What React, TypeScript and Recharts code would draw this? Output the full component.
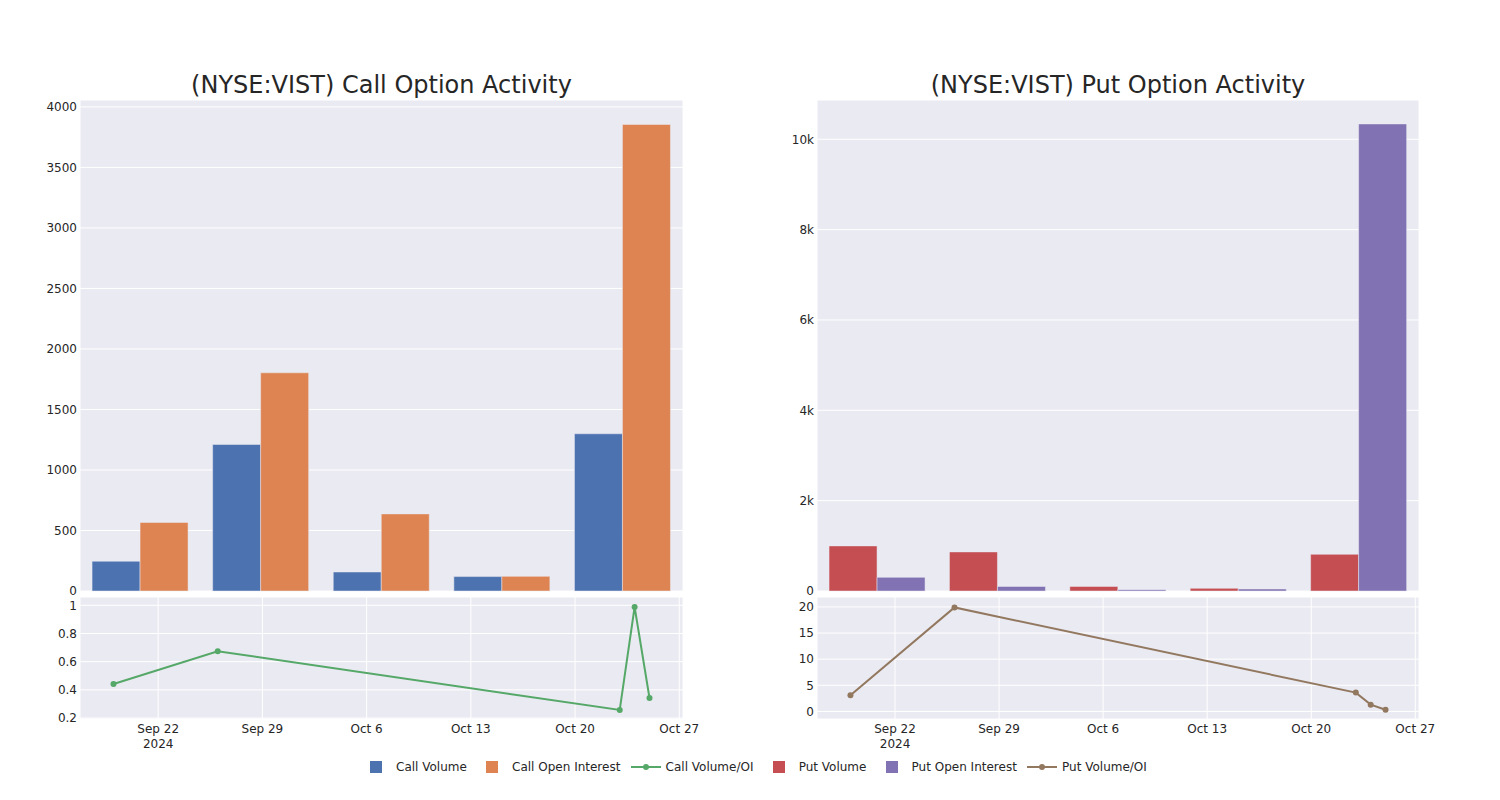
import { Bar, BarChart, CartesianGrid, Line, LineChart, XAxis, YAxis } from "recharts";

// bar categories (expiration / snapshot dates)
const barDates = ["2024-09-19", "2024-09-26", "2024-10-23", "2024-10-24", "2024-10-25"];
const callVolume = [246, 1211, 157, 119, 1299];
const callOpenInterest = [566, 1803, 637, 121, 3855];
const putVolume = [998, 865, 102, 59, 812];
const putOpenInterest = [302, 100, 29, 44, 10340];

// volume / open interest ratio lines
const ratioDates = ["2024-09-19", "2024-09-26", "2024-10-23", "2024-10-24", "2024-10-25"];
const callRatio = [0.441, 0.674, 0.257, 0.988, 0.342];
const putRatio = [3.1, 19.9, 3.6, 1.3, 0.32];

const dateTicks = ["2024-09-22", "2024-09-29", "2024-10-06", "2024-10-13", "2024-10-20", "2024-10-27"];
const dateTickLabels = ["Sep 22", "Sep 29", "Oct 6", "Oct 13", "Oct 20", "Oct 27"];
const callTicks = [0, 500, 1000, 1500, 2000, 2500, 3000, 3500, 4000];
const putTicks = [0, 2000, 4000, 6000, 8000, 10000];
const callRatioTicks = [0.2, 0.4, 0.6, 0.8, 1];
const putRatioTicks = [0, 5, 10, 15, 20];

const legendItems = [
  { name: "Call Volume", color: "#4C72B0", kind: "bar" },
  { name: "Call Open Interest", color: "#DD8452", kind: "bar" },
  { name: "Call Volume/OI", color: "#55A868", kind: "line" },
  { name: "Put Volume", color: "#C44E52", kind: "bar" },
  { name: "Put Open Interest", color: "#8172B3", kind: "bar" },
  { name: "Put Volume/OI", color: "#937860", kind: "line" },
];

const BG = "#EAEAF2";
const TEXT = "#262626";
const FONT = "'DejaVu Sans', Verdana, sans-serif";
const xStart = Date.UTC(2024, 8, 16, 18);
const xEnd = Date.UTC(2024, 9, 27, 6);

const callBars = barDates.map((d, i) => ({ d, vol: callVolume[i], oi: callOpenInterest[i] }));
const putBars = barDates.map((d, i) => ({ d, vol: putVolume[i], oi: putOpenInterest[i] }));
const callLine = ratioDates.map((d, i) => ({ t: Date.parse(d), v: callRatio[i] }));
const putLine = ratioDates.map((d, i) => ({ t: Date.parse(d), v: putRatio[i] }));
const tickTimes = dateTicks.map((d) => Date.parse(d));

function DateTick(props: any) {
  const { x, y, index } = props;
  return (
    <text x={x} y={y} textAnchor="middle" fill={TEXT} fontSize={12}>
      <tspan x={x} dy="0.71em">{dateTickLabels[index]}</tspan>
      {index === 0 && (
        <tspan x={x} dy="1.3em">2024</tspan>
      )}
    </text>
  );
}

const tickStyle = { fill: TEXT, fontSize: 12 };

function kFormat(v: number) {
  return v === 0 ? "0" : `${v / 1000}k`;
}

function BarPanel({ data, ticks, domainMax, colors, right, fmt }: any) {
  return (
    <BarChart
      width={700}
      height={600}
      data={data}
      margin={{ top: 100, right, bottom: 9, left: 0 }}
      barCategoryGap="10%"
      barGap={0}
    >
      <CartesianGrid fill={BG} stroke="#fff" strokeWidth={1} />
      <XAxis dataKey="d" height={0} tick={false} axisLine={false} tickLine={false} />
      <YAxis
        width={80}
        domain={[0, domainMax]}
        ticks={ticks}
        tickFormatter={fmt}
        axisLine={false}
        tickLine={false}
        tickSize={0}
        tickMargin={3}
        tick={tickStyle}
        interval={0}
      />
      <Bar dataKey="vol" fill={colors[0]} stroke={BG} strokeWidth={0.5} isAnimationActive={false} />
      <Bar dataKey="oi" fill={colors[1]} stroke={BG} strokeWidth={0.5} isAnimationActive={false} />
    </BarChart>
  );
}

function LinePanel({ data, ticks, domain, color, right }: any) {
  return (
    <LineChart width={700} height={170} data={data} margin={{ top: 7, right, bottom: 0, left: 0 }}>
      <CartesianGrid fill={BG} stroke="#fff" strokeWidth={1} />
      <XAxis
        dataKey="t"
        type="number"
        domain={[xStart, xEnd]}
        ticks={tickTimes}
        interval={0}
        height={41}
        axisLine={false}
        tickLine={false}
        tickSize={0}
        tickMargin={5}
        tick={<DateTick />}
      />
      <YAxis
        width={80}
        domain={domain}
        ticks={ticks}
        interval={0}
        axisLine={false}
        tickLine={false}
        tickSize={0}
        tickMargin={3}
        tick={tickStyle}
        allowDataOverflow
      />
      <Line
        type="linear"
        dataKey="v"
        stroke={color}
        strokeWidth={2}
        dot={{ r: 3, fill: color, stroke: color, strokeWidth: 0 }}
        isAnimationActive={false}
      />
    </LineChart>
  );
}

export default function App() {
  return (
    <div
      style={{
        position: "absolute",
        left: 0,
        top: 0,
        width: 1500,
        height: 800,
        background: "#fff",
        fontFamily: FONT,
        color: TEXT,
      }}
    >
      <div style={{ position: "absolute", left: 0, top: 0 }}>
        <BarPanel
          data={callBars}
          ticks={callTicks}
          domainMax={4057}
          colors={["#4C72B0", "#DD8452"]}
          right={17}
        />
      </div>
      <div style={{ position: "absolute", left: 0, top: 590 }}>
        <LinePanel data={callLine} ticks={callRatioTicks} domain={[0.193, 1.059]} color="#55A868" right={17} />
      </div>
      <div style={{ position: "absolute", left: 737, top: 0 }}>
        <BarPanel
          data={putBars}
          ticks={putTicks}
          domainMax={10870}
          colors={["#C44E52", "#8172B3"]}
          right={18}
          fmt={kFormat}
        />
      </div>
      <div style={{ position: "absolute", left: 737, top: 590 }}>
        <LinePanel data={putLine} ticks={putRatioTicks} domain={[-1.45, 21.9]} color="#937860" right={18} />
      </div>

      <svg width={1500} height={100} style={{ position: "absolute", left: 0, top: 0 }}>
        <text x={381.5} y={92.5} textAnchor="middle" fontSize={24} fill={TEXT}>
          (NYSE:VIST) Call Option Activity
        </text>
        <text x={1118} y={92.5} textAnchor="middle" fontSize={24} fill={TEXT}>
          (NYSE:VIST) Put Option Activity
        </text>
      </svg>

      <div
        style={{
          position: "absolute",
          left: 356,
          top: 758,
          height: 18,
          display: "flex",
          alignItems: "center",
          fontSize: 12,
          whiteSpace: "nowrap",
        }}
      >
        {legendItems.map((item) => (
          <div key={item.name} style={{ display: "flex", alignItems: "center", marginRight: 5.2 }}>
            <svg width={40} height={18}>
              {item.kind === "bar" ? (
                <rect x={14} y={3} width={12} height={12} fill={item.color} />
              ) : (
                <g>
                  <line x1={5} y1={9} x2={35} y2={9} stroke={item.color} strokeWidth={2} />
                  <circle cx={20} cy={9} r={3} fill={item.color} />
                </g>
              )}
            </svg>
            <span>{item.name}</span>
          </div>
        ))}
      </div>
    </div>
  );
}
